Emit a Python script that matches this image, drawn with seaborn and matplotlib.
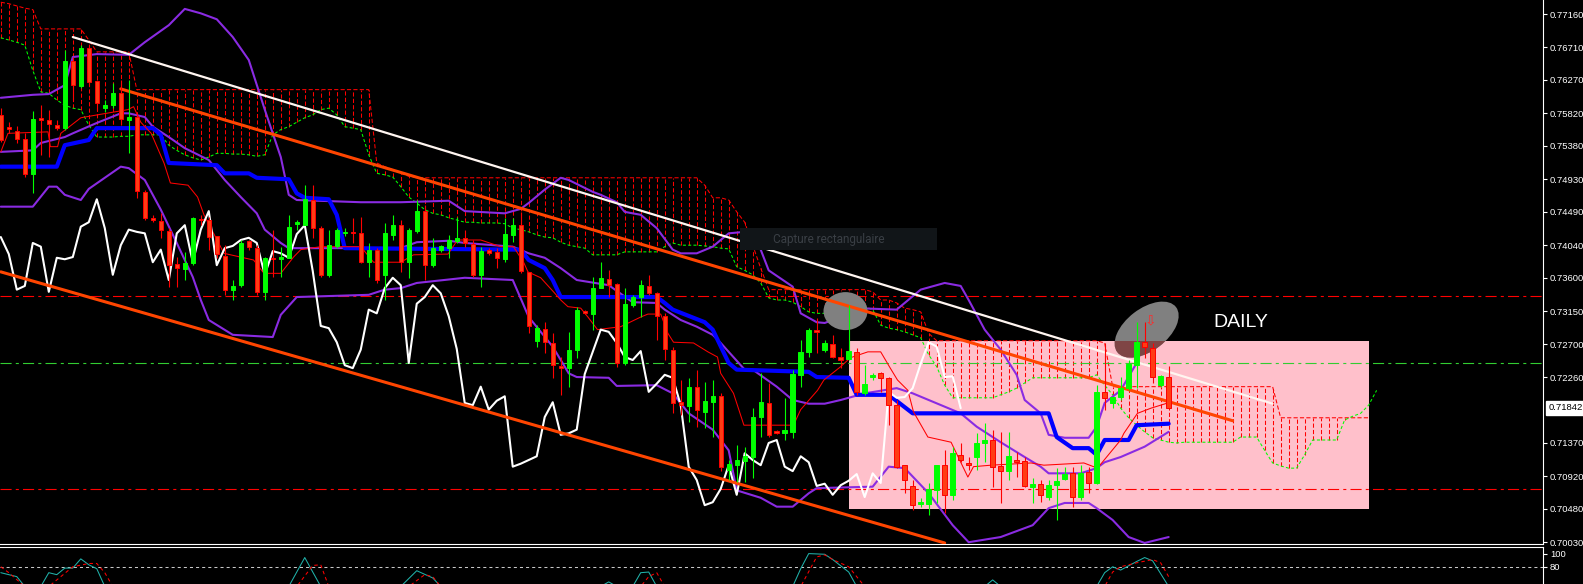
import numpy as np
import pandas as pd
import matplotlib
matplotlib.use("Agg")
import matplotlib.pyplot as plt
import matplotlib.transforms as mtransforms
from matplotlib.patches import Rectangle, Ellipse
import seaborn as sns

# daily candles, bar 0 = leftmost candle on the chart
opens = [0.7580, 0.7564, 0.7558, 0.7547, 0.7500, 0.7576, 0.7573, 0.7566, 0.7562, 0.7653,
         0.7619, 0.7670, 0.7626, 0.7589, 0.7593, 0.7609, 0.7573, 0.7577, 0.7476, 0.7441,
         0.7437, 0.7423, 0.7379, 0.7372, 0.7380, 0.7439, 0.7438, 0.7416, 0.7389, 0.7344,
         0.7350, 0.7410, 0.7400, 0.7341, 0.7387, 0.7385, 0.7387, 0.7433, 0.7431, 0.7465,
         0.7427, 0.7364, 0.7403, 0.7420, 0.7422, 0.7420, 0.7381, 0.7398, 0.7364, 0.7418,
         0.7431, 0.7381, 0.7423, 0.7450, 0.7377, 0.7398, 0.7400, 0.7410, 0.7414, 0.7406,
         0.7364, 0.7398, 0.7395, 0.7385, 0.7418, 0.7431, 0.7368, 0.7275, 0.7291, 0.7272,
         0.7241, 0.7238, 0.7263, 0.7315, 0.7311, 0.7346, 0.7358, 0.7352, 0.7245, 0.7323,
         0.7334, 0.7349, 0.7339, 0.7308, 0.7263, 0.7192, 0.7187, 0.7213, 0.7179, 0.7192,
         0.7200, 0.7101, 0.7107, 0.7113, 0.7118, 0.7172, 0.7191, 0.7153, 0.7150, 0.7152,
         0.7229, 0.7260, 0.7290, 0.7263, 0.7271, 0.7253, 0.7250, 0.7260, 0.7204, 0.7226,
         0.7231, 0.7225, 0.7188, 0.7107, 0.7079, 0.7055, 0.7055, 0.7074, 0.7107, 0.7067,
         0.7121, 0.7110, 0.7118, 0.7137, 0.7141, 0.7106, 0.7099, 0.7114, 0.7113, 0.7078,
         0.7082, 0.7064, 0.7080, 0.7088, 0.7096, 0.7064, 0.7098, 0.7083, 0.7206, 0.7191,
         0.7199, 0.7211, 0.7242, 0.7273, 0.7265, 0.7215, 0.7226]
highs = [0.7589, 0.7570, 0.7565, 0.7555, 0.7585, 0.7593, 0.7587, 0.7573, 0.7668, 0.7658,
         0.7674, 0.7673, 0.7627, 0.7600, 0.7623, 0.7627, 0.7627, 0.7580, 0.7479, 0.7445,
         0.7447, 0.7427, 0.7388, 0.7395, 0.7442, 0.7445, 0.7442, 0.7416, 0.7404, 0.7357,
         0.7411, 0.7411, 0.7404, 0.7388, 0.7425, 0.7402, 0.7445, 0.7438, 0.7485, 0.7485,
         0.7430, 0.7425, 0.7427, 0.7427, 0.7441, 0.7442, 0.7407, 0.7400, 0.7434, 0.7445,
         0.7438, 0.7427, 0.7465, 0.7458, 0.7414, 0.7404, 0.7418, 0.7442, 0.7425, 0.7411,
         0.7402, 0.7400, 0.7400, 0.7441, 0.7441, 0.7449, 0.7368, 0.7296, 0.7300, 0.7285,
         0.7253, 0.7287, 0.7321, 0.7317, 0.7361, 0.7381, 0.7371, 0.7353, 0.7346, 0.7337,
         0.7357, 0.7364, 0.7341, 0.7312, 0.7267, 0.7222, 0.7225, 0.7236, 0.7219, 0.7222,
         0.7204, 0.7114, 0.7134, 0.7132, 0.7184, 0.7231, 0.7218, 0.7155, 0.7198, 0.7236,
         0.7276, 0.7292, 0.7306, 0.7276, 0.7283, 0.7265, 0.7323, 0.7265, 0.7242, 0.7231,
         0.7233, 0.7226, 0.7195, 0.7107, 0.7087, 0.7063, 0.7083, 0.7107, 0.7128, 0.7132,
         0.7137, 0.7118, 0.7150, 0.7164, 0.7155, 0.7152, 0.7152, 0.7125, 0.7118, 0.7090,
         0.7087, 0.7087, 0.7103, 0.7105, 0.7105, 0.7107, 0.7105, 0.7215, 0.7269, 0.7199,
         0.7226, 0.7249, 0.7300, 0.7300, 0.7272, 0.7229, 0.7241]
lows = [0.7543, 0.7555, 0.7542, 0.7496, 0.7474, 0.7526, 0.7523, 0.7560, 0.7560, 0.7600,
        0.7616, 0.7620, 0.7587, 0.7584, 0.7589, 0.7566, 0.7528, 0.7468, 0.7438, 0.7435,
        0.7414, 0.7348, 0.7348, 0.7357, 0.7377, 0.7431, 0.7398, 0.7387, 0.7337, 0.7330,
        0.7348, 0.7398, 0.7337, 0.7330, 0.7361, 0.7361, 0.7387, 0.7425, 0.7431, 0.7414,
        0.7361, 0.7361, 0.7400, 0.7416, 0.7407, 0.7380, 0.7361, 0.7353, 0.7330, 0.7411,
        0.7368, 0.7360, 0.7420, 0.7357, 0.7375, 0.7395, 0.7387, 0.7407, 0.7402, 0.7361,
        0.7348, 0.7391, 0.7373, 0.7381, 0.7408, 0.7366, 0.7285, 0.7267, 0.7258, 0.7225,
        0.7202, 0.7213, 0.7252, 0.7311, 0.7290, 0.7346, 0.7334, 0.7240, 0.7242, 0.7321,
        0.7307, 0.7337, 0.7276, 0.7249, 0.7177, 0.7175, 0.7165, 0.7159, 0.7157, 0.7145,
        0.7099, 0.7087, 0.7084, 0.7084, 0.7090, 0.7145, 0.7145, 0.7149, 0.7141, 0.7144,
        0.7213, 0.7253, 0.7258, 0.7260, 0.7252, 0.7238, 0.7249, 0.7202, 0.7202, 0.7222,
        0.7206, 0.7161, 0.7103, 0.7069, 0.7047, 0.7051, 0.7040, 0.7056, 0.7042, 0.7060,
        0.7111, 0.7101, 0.7101, 0.7111, 0.7078, 0.7056, 0.7087, 0.7091, 0.7078, 0.7056,
        0.7057, 0.7060, 0.7033, 0.7087, 0.7051, 0.7060, 0.7069, 0.7082, 0.7182, 0.7184,
        0.7195, 0.7209, 0.7211, 0.7252, 0.7218, 0.7213, 0.7184]
closes = [0.7546, 0.7561, 0.7547, 0.7500, 0.7574, 0.7573, 0.7568, 0.7562, 0.7653, 0.7620,
          0.7670, 0.7624, 0.7596, 0.7593, 0.7609, 0.7574, 0.7577, 0.7477, 0.7441, 0.7438,
          0.7425, 0.7377, 0.7373, 0.7380, 0.7441, 0.7438, 0.7415, 0.7392, 0.7344, 0.7349,
          0.7407, 0.7402, 0.7341, 0.7387, 0.7385, 0.7388, 0.7429, 0.7435, 0.7466, 0.7427,
          0.7364, 0.7404, 0.7425, 0.7422, 0.7420, 0.7381, 0.7398, 0.7357, 0.7420, 0.7431,
          0.7381, 0.7425, 0.7450, 0.7377, 0.7400, 0.7403, 0.7411, 0.7414, 0.7407, 0.7364,
          0.7396, 0.7393, 0.7387, 0.7419, 0.7431, 0.7369, 0.7295, 0.7292, 0.7273, 0.7242,
          0.7238, 0.7263, 0.7317, 0.7312, 0.7346, 0.7360, 0.7350, 0.7245, 0.7325, 0.7334,
          0.7350, 0.7339, 0.7308, 0.7264, 0.7191, 0.7188, 0.7213, 0.7182, 0.7194, 0.7200,
          0.7105, 0.7109, 0.7114, 0.7119, 0.7172, 0.7192, 0.7148, 0.7150, 0.7155, 0.7230,
          0.7260, 0.7290, 0.7287, 0.7272, 0.7253, 0.7249, 0.7261, 0.7206, 0.7217, 0.7229,
          0.7225, 0.7188, 0.7105, 0.7087, 0.7053, 0.7057, 0.7075, 0.7107, 0.7067, 0.7123,
          0.7114, 0.7107, 0.7137, 0.7141, 0.7105, 0.7099, 0.7119, 0.7111, 0.7079, 0.7082,
          0.7067, 0.7080, 0.7086, 0.7095, 0.7064, 0.7096, 0.7083, 0.7206, 0.7198, 0.7199,
          0.7211, 0.7244, 0.7273, 0.7267, 0.7226, 0.7227, 0.7184]

# ichimoku cloud edges for every bar (runs 26 bars past the last candle)
span_top = ([0.7732, 0.7730, 0.7727, 0.7724, 0.7722] + [0.7696] * 6 + [0.7681] + [0.7665] * 5
            + [0.7614] * 30 + [0.7515, 0.7510, 0.7506, 0.7501, 0.7497] + [0.7495] * 36
            + [0.7485, 0.7468, 0.7468, 0.7465, 0.7449, 0.7435, 0.7404, 0.7373] + [0.7344] * 13
            + [0.7341, 0.7330, 0.7330, 0.7326, 0.7319, 0.7317, 0.7314, 0.7285] + [0.7275] * 21
            + [0.7272] + [0.7213] * 21 + [0.7171] * 13)
span_bottom = [0.7684, 0.7681, 0.7678, 0.7674, 0.7640, 0.7611, 0.7609, 0.7600, 0.7593, 0.7589, 0.7587, 0.7566,
               0.7550, 0.7550, 0.7550, 0.7551, 0.7551, 0.7553, 0.7553, 0.7553, 0.7553,
               0.7539, 0.7532, 0.7526, 0.7522, 0.7519, 0.7523, 0.7528, 0.7528, 0.7527, 0.7527, 0.7526, 0.7524, 0.7526,
               0.7553, 0.7560, 0.7564, 0.7570, 0.7576, 0.7580, 0.7587, 0.7589, 0.7580, 0.7564, 0.7562, 0.7560,
               0.7526, 0.7501, 0.7499, 0.7496, 0.7483, 0.7469, 0.7461, 0.7452, 0.7447, 0.7445, 0.7441, 0.7438,
               0.7435, 0.7435, 0.7434, 0.7434, 0.7434, 0.7433, 0.7427, 0.7425, 0.7422, 0.7418, 0.7415, 0.7414,
               0.7408, 0.7404, 0.7402, 0.7400, 0.7391, 0.7391, 0.7391, 0.7391, 0.7395, 0.7395, 0.7395, 0.7395,
               0.7395, 0.7402, 0.7407, 0.7404, 0.7404, 0.7404, 0.7403, 0.7402, 0.7400, 0.7399, 0.7375, 0.7370,
               0.7364, 0.7353, 0.7333, 0.7330, 0.7330, 0.7327, 0.7321, 0.7314, 0.7312, 0.7312, 0.7312, 0.7317,
               0.7317, 0.7319, 0.7321, 0.7317, 0.7296, 0.7292, 0.7290, 0.7287, 0.7283, 0.7279, 0.7256, 0.7240,
               0.7215, 0.7198, 0.7198, 0.7198, 0.7198, 0.7198, 0.7198, 0.7202, 0.7206, 0.7211, 0.7218, 0.7225,
               0.7225, 0.7225, 0.7225, 0.7225, 0.7225, 0.7225, 0.7225, 0.7229, 0.7215, 0.7202, 0.7184, 0.7171,
               0.7161, 0.7152, 0.7144, 0.7141, 0.7138, 0.7137, 0.7138, 0.7138, 0.7138, 0.7138, 0.7138, 0.7138,
               0.7138, 0.7145, 0.7145, 0.7145, 0.7127, 0.7110, 0.7106, 0.7103, 0.7103, 0.7121, 0.7141, 0.7141,
               0.7141, 0.7141, 0.7168, 0.7173, 0.7177, 0.7188, 0.7208]

# tenkan-sen (thin red) and kijun-sen (thick blue)
tenkan_x = [0.0, 0.9, 5.9, 6.2, 7.1, 7.5, 10.0, 12.1, 15.9, 16.6, 17.5, 18.8, 20.4, 21.2, 23.4, 24.6, 25.4,
            27.9, 31.6, 32.9, 35.0, 36.6, 37.5, 40.0, 45.0, 46.6, 50.0, 51.6, 55.9, 57.1, 60.0, 62.5, 64.1,
            65.4, 65.9, 67.5, 69.1, 70.0, 70.9, 72.5, 73.4, 74.6, 77.5, 80.0, 80.9, 82.5, 83.4, 84.1, 86.6,
            88.4, 89.6, 90.0, 91.6, 92.9, 99.1, 100.0, 102.1, 102.9, 105.0, 106.2, 108.4, 110.0, 111.2, 112.1,
            113.4, 114.1, 115.9, 118.8, 120.9, 121.6, 123.8, 128.8, 130.4, 135.4, 137.1, 140.0, 140.4, 142.1,
            143.8, 145.9]
tenkan = [0.7530, 0.7555, 0.7557, 0.7537, 0.7537, 0.7555, 0.7576, 0.7580, 0.7587, 0.7591, 0.7570, 0.7555,
          0.7515, 0.7488, 0.7485, 0.7469, 0.7445, 0.7393, 0.7384, 0.7366, 0.7366, 0.7388, 0.7398, 0.7402,
          0.7402, 0.7381, 0.7381, 0.7391, 0.7392, 0.7411, 0.7411, 0.7402, 0.7402, 0.7380, 0.7368, 0.7360,
          0.7341, 0.7330, 0.7321, 0.7319, 0.7307, 0.7290, 0.7294, 0.7307, 0.7311, 0.7311, 0.7285, 0.7273,
          0.7272, 0.7260, 0.7253, 0.7231, 0.7204, 0.7161, 0.7161, 0.7182, 0.7208, 0.7222, 0.7240, 0.7252,
          0.7260, 0.7260, 0.7238, 0.7222, 0.7208, 0.7179, 0.7145, 0.7138, 0.7091, 0.7105, 0.7107, 0.7110,
          0.7107, 0.7110, 0.7103, 0.7141, 0.7150, 0.7177, 0.7184, 0.7191]
kijun_x = [0, 7, 8, 11, 12, 19, 20, 21, 27, 28, 31, 32, 36, 37, 38, 41, 42, 43, 65, 66, 68, 69, 70, 82, 83,
           84, 88, 89, 91, 92, 101, 102, 106, 107, 111, 114, 131, 132, 134, 136, 137, 138, 141, 142, 146]
kijun = [0.7510, 0.7510, 0.7539, 0.7546, 0.7562, 0.7562, 0.7553, 0.7515, 0.7512, 0.7501, 0.7501, 0.7495,
         0.7493, 0.7474, 0.7468, 0.7466, 0.7445, 0.7400, 0.7398, 0.7384, 0.7373, 0.7357, 0.7334, 0.7334,
         0.7326, 0.7317, 0.7300, 0.7290, 0.7245, 0.7236, 0.7233, 0.7226, 0.7225, 0.7202, 0.7202, 0.7177,
         0.7177, 0.7145, 0.7130, 0.7130, 0.7121, 0.7141, 0.7141, 0.7161, 0.7163]

# bollinger bands (purple)
bb_up_x = [0, 4, 6, 8, 9, 12, 16, 18, 21, 23, 25, 27, 29, 31, 33, 35, 36, 37, 45, 50, 56, 58, 63, 65, 66,
           68, 70, 71, 74, 75, 77, 78, 80, 82, 84, 85, 87, 89, 91, 93, 95, 96, 99, 100, 102, 103, 105, 107,
           112, 113, 115, 117, 118, 120, 121, 123, 125, 127, 128, 130, 131, 133, 136, 137, 138, 140, 142,
           143, 145, 146]
bb_up = [0.7603, 0.7607, 0.7608, 0.7620, 0.7658, 0.7662, 0.7661, 0.7678, 0.7701, 0.7723, 0.7717, 0.7709,
         0.7685, 0.7654, 0.7587, 0.7523, 0.7472, 0.7465, 0.7462, 0.7462, 0.7464, 0.7450, 0.7447, 0.7453,
         0.7461, 0.7479, 0.7495, 0.7492, 0.7476, 0.7472, 0.7462, 0.7449, 0.7445, 0.7427, 0.7398, 0.7393,
         0.7393, 0.7402, 0.7420, 0.7422, 0.7398, 0.7370, 0.7348, 0.7312, 0.7300, 0.7299, 0.7307, 0.7319,
         0.7317, 0.7326, 0.7344, 0.7350, 0.7353, 0.7349, 0.7330, 0.7290, 0.7263, 0.7229, 0.7195, 0.7177,
         0.7148, 0.7144, 0.7144, 0.7159, 0.7191, 0.7208, 0.7245, 0.7273, 0.7294, 0.7299]
bb_mid_x = [0, 4, 5, 8, 9, 12, 15, 16, 18, 19, 21, 23, 26, 28, 30, 32, 33, 35, 36, 50, 52, 56, 58, 64, 66,
            68, 70, 72, 76, 79, 82, 83, 85, 87, 89, 90, 93, 94, 97, 99, 101, 103, 105, 108, 112, 114, 116,
            120, 122, 125, 128, 130, 131, 135, 137, 138, 140, 143, 146]
bb_mid = [0.7530, 0.7532, 0.7542, 0.7550, 0.7555, 0.7569, 0.7582, 0.7582, 0.7577, 0.7564, 0.7550, 0.7535,
          0.7519, 0.7492, 0.7469, 0.7447, 0.7425, 0.7407, 0.7400, 0.7400, 0.7408, 0.7410, 0.7407, 0.7402,
          0.7393, 0.7387, 0.7373, 0.7357, 0.7350, 0.7327, 0.7326, 0.7317, 0.7303, 0.7294, 0.7283, 0.7272,
          0.7236, 0.7236, 0.7213, 0.7195, 0.7190, 0.7190, 0.7195, 0.7204, 0.7211, 0.7204, 0.7195, 0.7177,
          0.7159, 0.7138, 0.7118, 0.7105, 0.7096, 0.7096, 0.7103, 0.7111, 0.7118, 0.7132, 0.7152]
bb_low_x = [0, 4, 6, 7, 8, 10, 11, 15, 16, 18, 20, 22, 24, 25, 26, 29, 34, 35, 37, 46, 48, 50, 52, 58, 64,
            66, 69, 71, 72, 76, 77, 82, 84, 86, 89, 91, 92, 95, 97, 99, 101, 102, 109, 111, 113, 116, 119,
            121, 125, 129, 131, 133, 136, 137, 139, 141, 143, 146]
bb_low = [0.7456, 0.7456, 0.7483, 0.7483, 0.7472, 0.7465, 0.7480, 0.7510, 0.7508, 0.7492, 0.7452, 0.7407,
          0.7361, 0.7330, 0.7303, 0.7283, 0.7280, 0.7310, 0.7334, 0.7337, 0.7344, 0.7346, 0.7353, 0.7360,
          0.7357, 0.7307, 0.7267, 0.7231, 0.7226, 0.7225, 0.7214, 0.7215, 0.7204, 0.7177, 0.7155, 0.7127,
          0.7073, 0.7063, 0.7051, 0.7051, 0.7069, 0.7076, 0.7078, 0.7105, 0.7103, 0.7069, 0.7026, 0.7003,
          0.7010, 0.7026, 0.7049, 0.7056, 0.7056, 0.7049, 0.7033, 0.7010, 0.7002, 0.7010]

# trendlines and horizontal levels
white_trend_x = [9, 159]
white_trend = [0.7685, 0.7190]
orange_up_x = [15, 154]
orange_up = [0.7615, 0.7167]
orange_low_x = [0, 118]
orange_low = [0.7368, 0.7002]
level_red_hi = 0.7335
level_green = 0.7245
level_red_lo = 0.7075

# price scale
price_ticks = [0.77160, 0.76710, 0.76270, 0.75820, 0.75380, 0.74930, 0.74490, 0.74040,
               0.73600, 0.73150, 0.72700, 0.72260, 0.71370, 0.70920, 0.70480, 0.70030]
last_price = 0.71842

# stochastic (sub window)
stoch_k_x = [0, 2, 3, 5, 6, 7, 8, 9, 10, 11, 12, 13, 36, 38, 40, 50, 52, 54, 55, 75, 76, 77, 79, 80, 81, 82,
             99, 100, 101, 103, 104, 106, 107, 123, 124, 125, 137, 138, 139, 140, 142, 143, 144, 146]
stoch_k = [71, 65, 50, 50, 71, 68, 78, 78, 92, 83, 77, 50, 50, 94, 50, 50, 74, 63, 50, 50, 57, 50, 50, 71,
           72, 50, 50, 77, 100, 99, 91, 72, 50, 50, 60, 50, 50, 71, 80, 75, 88, 94, 89, 50]
stoch_d_x = [0, 1, 3, 6, 9, 11, 12, 13, 14, 37, 39, 40, 41, 51, 53, 54, 55, 80, 81, 82, 83, 100, 102, 103,
             104, 106, 108, 138, 139, 140, 142, 144, 145, 146]
stoch_d = [80, 71, 50, 50, 80, 85, 85, 71, 50, 50, 82, 83, 50, 50, 68, 65, 50, 50, 65, 71, 50, 50, 95, 98,
           91, 80, 50, 50, 72, 80, 86, 91, 86, 65]

sns.set_style("dark", {"axes.facecolor": "black", "figure.facecolor": "black",
                       "axes.edgecolor": "white", "axes.grid": False})
plt.rcParams["font.family"] = ["Liberation Sans", "DejaVu Sans"]
plt.rcParams["lines.scale_dashes"] = False

W, H = 1583, 584
fig = plt.figure(figsize=(W / 100, H / 100), dpi=100)
fig.patch.set_facecolor("black")
ax = fig.add_axes([0, 40 / H, 1543 / W, 544 / H])
sub = fig.add_axes([0, 0, 1543 / W, 37.5 / H])
ax.set_xlim(-0.1, 192.8)
ax.set_ylim(0.70006, 0.7735)
sub.set_xlim(-0.1, 192.8)
sub.set_ylim(53.8, 110.8)

df = pd.DataFrame({"open": opens, "high": highs, "low": lows, "close": closes})
df["bar"] = np.arange(len(df))
df["chikou"] = df["close"].shift(-26)

cloud = pd.DataFrame({"top": span_top, "bottom": span_bottom})
cloud["bar"] = np.arange(len(cloud))

# pink zone drawn in the background
zone = Rectangle((106, 0.7048), 65, 0.0227, facecolor="#ffc0cb", edgecolor="none", zorder=0.5)
ax.add_patch(zone)

# cloud hatching + edges
hatch = cloud[cloud["bottom"] < cloud["top"]]
ax.vlines(hatch["bar"], hatch["bottom"], hatch["top"], colors="#ff0000", lw=0.75,
          linestyles=(0, (3, 1.6)), zorder=1)
sns.lineplot(data=cloud[cloud["bar"] <= 171], x="bar", y="top", ax=ax, color="#ff0000", lw=0.75,
             linestyle=(0, (3, 1.6)), estimator=None, zorder=1.1)
sns.lineplot(data=cloud, x="bar", y="bottom", ax=ax, color="#00ff00", lw=0.75,
             linestyle=(0, (2.2, 1.6)), estimator=None, zorder=1.1)

# horizontal levels
dashdot = (0, (8, 3, 2.2, 3))
ax.axhline(level_red_hi, color="#ff0000", lw=0.8, ls=dashdot, zorder=1.2)
ax.axhline(level_green, color="#32cd32", lw=0.8, ls=dashdot, zorder=1.2)
ax.axhline(level_red_lo, color="#ff0000", lw=0.8, ls=dashdot, zorder=1.2)

# indicator lines
for xs, ys in [(bb_up_x, bb_up), (bb_mid_x, bb_mid), (bb_low_x, bb_low)]:
    sns.lineplot(x=xs, y=ys, ax=ax, color="#8a2be2", lw=1.5, estimator=None, sort=False, zorder=2)
sns.lineplot(x=kijun_x, y=kijun, ax=ax, color="#0000ff", lw=3.0, estimator=None, sort=False, zorder=2.2)
sns.lineplot(x=tenkan_x, y=tenkan, ax=ax, color="#ff0000", lw=0.75, estimator=None, sort=False, zorder=2.3)
sns.lineplot(data=df, x="bar", y="chikou", ax=ax, color="white", lw=1.5, estimator=None, zorder=2.4)


# gray ellipses sized in pixels, anchored at (bar, price)
def marker_ellipse(bar, price, w_px, h_px, angle, color, z):
    tr = fig.dpi_scale_trans + mtransforms.ScaledTranslation(bar, price, ax.transData)
    e = Ellipse((0, 0), w_px / 100, h_px / 100, angle=angle, facecolor=color,
                edgecolor="none", transform=tr, zorder=z)
    ax.add_patch(e)
    return e


marker_ellipse(105.6, 0.7315, 44, 38, 0, "#808080", 3)
marker_ellipse(143.25, 0.7290, 74, 42, 37.5, "#808080", 3)
dark = marker_ellipse(143.25, 0.7290, 74, 42, 37.5, "#7f4545", 3.1)
dark.set_clip_path(zone)

# trendlines
sns.lineplot(x=white_trend_x, y=white_trend, ax=ax, color="#fff5f0", lw=1.6, estimator=None, zorder=4)
sns.lineplot(x=orange_up_x, y=orange_up, ax=ax, color="#ff4500", lw=2.2, estimator=None, zorder=4)
sns.lineplot(x=orange_low_x, y=orange_low, ax=ax, color="#ff4500", lw=2.2, estimator=None, zorder=4)

# candles
up = df["close"] >= df["open"]
for mask, face, edge in [(up, "#00ff00", "#00ff00"), (~up, "#ff3c14", "#ff0000")]:
    d = df[mask]
    ax.vlines(d["bar"], d["low"], d["high"], colors=edge, lw=0.8, zorder=5)
    body = (d["close"] - d["open"]).abs().clip(lower=0.00008)
    ax.bar(d["bar"], body, bottom=np.minimum(d["open"], d["close"]), width=0.55,
           color=face, edgecolor=edge, lw=0.7, zorder=6)

# annotations
ax.text(155, 0.7300, "DAILY", color="white", fontsize=14, ha="center", va="center", zorder=8)
ax.text(143.75, 0.7303, "\u21e9", color="#ff2a2a", fontsize=10, ha="center", va="center",
        family=["DejaVu Sans"], zorder=8)
ax.add_patch(Rectangle((92.4, 0.73975), 24.7, 0.00295, facecolor="#111518", edgecolor="none", zorder=7))
ax.text(96.5, 0.7412, "Capture rectangulaire", color="#3a3f45", fontsize=8.5, ha="left", va="center",
        family=["Roboto", "DejaVu Sans"], zorder=7.5)

# price scale on the right
ax.yaxis.tick_right()
ax.set_yticks(price_ticks)
ax.set_yticklabels([f"{p:.5f}" for p in price_ticks])
ax.tick_params(axis="y", colors="white", labelsize=6.8, length=3, width=0.8, pad=2)
ax.set_xticks([])
ax.set_xlabel("")
ax.set_ylabel("")
blend = mtransforms.blended_transform_factory(ax.transAxes, ax.transData)
ax.text(1.0035, last_price, f"{last_price:.5f}", transform=blend, ha="left", va="center",
        fontsize=6.8, color="black", clip_on=False, zorder=9,
        bbox=dict(boxstyle="square,pad=0.25", facecolor="white", edgecolor="white"))
for side in ["top", "left"]:
    ax.spines[side].set_visible(False)
for side in ["right", "bottom"]:
    ax.spines[side].set_color("white")
    ax.spines[side].set_linewidth(0.8)

# stochastic window
sub.axhline(80, color="#c8c8c8", lw=0.75, ls=(0, (2.2, 2.2)), zorder=1)
sns.lineplot(x=stoch_k_x, y=stoch_k, ax=sub, color="#20b2aa", lw=0.75, estimator=None, sort=False, zorder=2)
sns.lineplot(x=stoch_d_x, y=stoch_d, ax=sub, color="#ff0000", lw=0.75, linestyle=(0, (2.5, 2.2)),
             estimator=None, sort=False, zorder=2.1)
sub.yaxis.tick_right()
sub.set_yticks([100, 80])
sub.set_yticklabels(["100", "80"])
sub.tick_params(axis="y", colors="white", labelsize=6.8, length=3, width=0.8, pad=2)
sub.set_xticks([])
sub.set_xlabel("")
sub.set_ylabel("")
for side in ["bottom", "left"]:
    sub.spines[side].set_visible(False)
for side in ["top", "right"]:
    sub.spines[side].set_color("white")
    sub.spines[side].set_linewidth(0.8)

fig.savefig("out.png", dpi=100, facecolor="black")
